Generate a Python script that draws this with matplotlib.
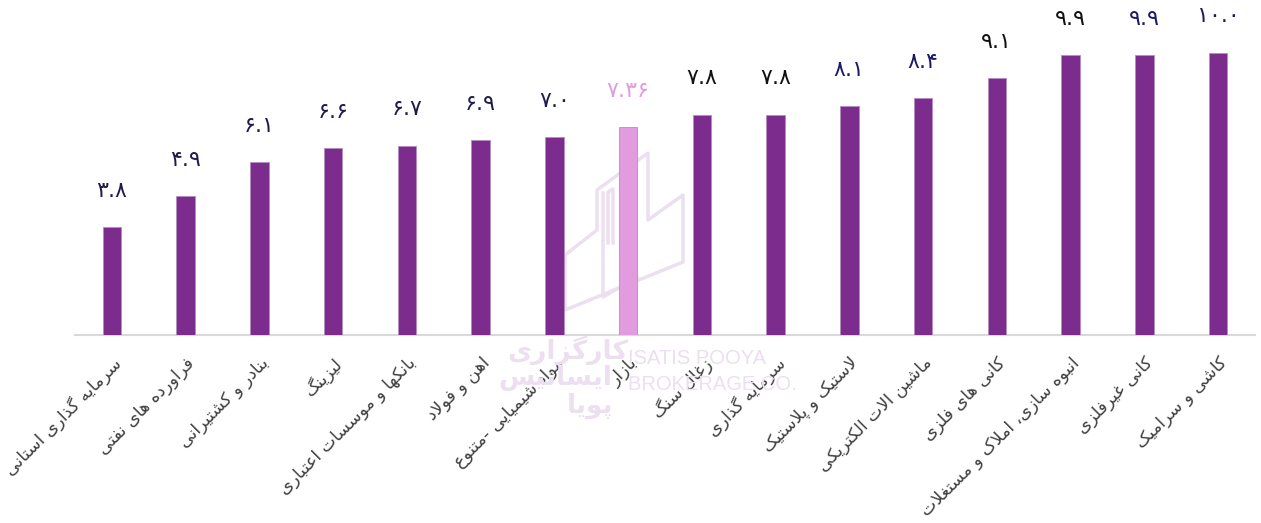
import matplotlib
matplotlib.use("Agg")
import matplotlib.pyplot as plt
from matplotlib.lines import Line2D

# داده‌ها
categories = [
    "سرمایه گذاری استانی",
    "فراورده های نفتی",
    "بنادر و کشتیرانی",
    "لیزینگ",
    "بانکها و موسسات اعتباری",
    "اهن و فولاد",
    "مواد شیمیایی -متنوع",
    "بازار",
    "زغال سنگ",
    "سرمایه گذاری",
    "لاستیک و پلاستیک",
    "ماشین الات الکتریکی",
    "کانی های فلزی",
    "انبوه سازی، املاک و مستغلات",
    "کانی غیرفلزی",
    "کاشی و سرامیک",
]
values = [3.8, 4.9, 6.1, 6.6, 6.7, 6.9, 7.0, 7.36, 7.8, 7.8, 8.1, 8.4, 9.1, 9.9, 9.9, 10.0]
value_labels = ["۳.۸", "۴.۹", "۶.۱", "۶.۶", "۶.۷", "۶.۹", "۷.۰", "۷.۳۶",
                "۷.۸", "۷.۸", "۸.۱", "۸.۴", "۹.۱", "۹.۹", "۹.۹", "۱۰.۰"]
highlight = "بازار"

# رنگ‌ها
BAR = "#7b2c8c"
BAR_HI = "#e39be0"
NAVY = "#1f1b4d"
BLUE = "#1c1a66"
BLACK = "#111111"
label_colors = [NAVY] * 7 + [BAR_HI, BLACK, BLACK, BLUE, BLUE, BLACK, BLACK, BLUE, BLUE]
WM = "#ecdfef"

# شکل‌دهی ساده حروف فارسی (matplotlib اتصال حروف را انجام نمی‌دهد)
FORMS = {
    "ا": (0xFE8D, 0xFE8E), "آ": (0xFE81, 0xFE82), "د": (0xFEA9, 0xFEAA),
    "ذ": (0xFEAB, 0xFEAC), "ر": (0xFEAD, 0xFEAE), "ز": (0xFEAF, 0xFEB0),
    "ژ": (0xFB8A, 0xFB8B), "و": (0xFEED, 0xFEEE),
    "ب": (0xFE8F, 0xFE90, 0xFE91, 0xFE92), "پ": (0xFB56, 0xFB57, 0xFB58, 0xFB59),
    "ت": (0xFE95, 0xFE96, 0xFE97, 0xFE98), "ث": (0xFE99, 0xFE9A, 0xFE9B, 0xFE9C),
    "ج": (0xFE9D, 0xFE9E, 0xFE9F, 0xFEA0), "چ": (0xFB7A, 0xFB7B, 0xFB7C, 0xFB7D),
    "ح": (0xFEA1, 0xFEA2, 0xFEA3, 0xFEA4), "خ": (0xFEA5, 0xFEA6, 0xFEA7, 0xFEA8),
    "س": (0xFEB1, 0xFEB2, 0xFEB3, 0xFEB4), "ش": (0xFEB5, 0xFEB6, 0xFEB7, 0xFEB8),
    "ص": (0xFEB9, 0xFEBA, 0xFEBB, 0xFEBC), "ض": (0xFEBD, 0xFEBE, 0xFEBF, 0xFEC0),
    "ط": (0xFEC1, 0xFEC2, 0xFEC3, 0xFEC4), "ظ": (0xFEC5, 0xFEC6, 0xFEC7, 0xFEC8),
    "ع": (0xFEC9, 0xFECA, 0xFECB, 0xFECC), "غ": (0xFECD, 0xFECE, 0xFECF, 0xFED0),
    "ف": (0xFED1, 0xFED2, 0xFED3, 0xFED4), "ق": (0xFED5, 0xFED6, 0xFED7, 0xFED8),
    "ک": (0xFB8E, 0xFB8F, 0xFB90, 0xFB91), "گ": (0xFB92, 0xFB93, 0xFB94, 0xFB95),
    "ل": (0xFEDD, 0xFEDE, 0xFEDF, 0xFEE0), "م": (0xFEE1, 0xFEE2, 0xFEE3, 0xFEE4),
    "ن": (0xFEE5, 0xFEE6, 0xFEE7, 0xFEE8), "ه": (0xFEE9, 0xFEEA, 0xFEEB, 0xFEEC),
    "ی": (0xFBFC, 0xFBFD, 0xFBFE, 0xFBFF),
}


def dual(c):
    return c in FORMS and len(FORMS[c]) == 4


def shape_fa(text):
    """حروف را به شکل اتصالی تبدیل و برای نمایش چپ به راست برعکس می‌کند."""
    out = []
    n = len(text)
    i = 0
    while i < n:
        c = text[i]
        prev = text[i - 1] if i > 0 else ""
        nxt = text[i + 1] if i + 1 < n else ""
        jp = dual(prev) and c in FORMS
        if c == "ل" and nxt == "ا":
            out.append(chr(0xFEFC if jp else 0xFEFB))
            i += 2
            continue
        if c not in FORMS:
            out.append(c)
        else:
            f = FORMS[c]
            jn = len(f) == 4 and nxt in FORMS
            if jp and jn:
                out.append(chr(f[3]))
            elif jp:
                out.append(chr(f[1]))
            elif jn:
                out.append(chr(f[2]))
            else:
                out.append(chr(f[0]))
        i += 1
    return "".join(out)[::-1]


plt.rcParams["font.family"] = ["DejaVu Sans"]

W, H = 1261, 523
fig = plt.figure(figsize=(W / 100, H / 100), dpi=100)
ax = fig.add_axes([75 / W, (H - 334.5) / H, 1180 / W, 334.5 / H])
ax.patch.set_alpha(0)

# لوگوی واترمارک (پس‌زمینه)
def px(pts):
    return [p[0] / W for p in pts], [1 - p[1] / H for p in pts]

logo_paths = [
    [(565, 255), (565, 310), (683, 262), (683, 195), (648, 220), (648, 153),
     (597, 190), (597, 230), (565, 255)],
    [(603, 193), (603, 297), (637, 277)],
    [(608, 243), (608, 192), (613, 189), (613, 243)],
]
for path in logo_paths:
    xs, ys = px(path)
    fig.add_artist(Line2D(xs, ys, color=WM, lw=2.5, zorder=0))

fig.text(568 / W, 1 - 350 / H, shape_fa("کارگزاری"), color=WM, fontsize=19,
         fontweight="bold", ha="center", va="center", zorder=0)
fig.text(555 / W, 1 - 378 / H, shape_fa("ایساتیس"), color=WM, fontsize=19,
         fontweight="bold", ha="center", va="center", zorder=0)
fig.text(590 / W, 1 - 406 / H, shape_fa("پویا"), color=WM, fontsize=19,
         fontweight="bold", ha="center", va="center", zorder=0)
wm_font = ["Liberation Sans", "DejaVu Sans"]
fig.text(628 / W, 1 - 358 / H, "ISATIS POOYA", color=WM, fontsize=14.5,
         family=wm_font, ha="left", va="center", zorder=0)
fig.text(628 / W, 1 - 384 / H, "BROKERAGE CO.", color=WM, fontsize=14.5,
         family=wm_font, ha="left", va="center", zorder=0)

x = list(range(len(categories)))
colors = [BAR_HI if c == highlight else BAR for c in categories]
bars = ax.bar(x, values, width=0.25, color=colors, edgecolor="#b58cc0",
              linewidth=0.6, zorder=3)

for xi, v, lab, col in zip(x, values, value_labels, label_colors):
    ax.annotate(lab, (xi, v), xytext=(0, 26), textcoords="offset points",
                ha="center", va="center", fontsize=16, color=col)

ax.set_xlim(-0.5, len(categories) - 0.5)
ax.set_ylim(0, 334.5 / 28.2)
ax.set_yticks([])
ax.set_xticks(x)
ax.set_xticklabels([shape_fa(c) for c in categories], rotation=45,
                   ha="right", rotation_mode="anchor", fontsize=12.5,
                   color="#404040")
ax.tick_params(axis="x", length=0, pad=14)

for s in ["top", "right", "left"]:
    ax.spines[s].set_visible(False)
ax.spines["bottom"].set_color("#d9d9d9")
ax.spines["bottom"].set_linewidth(1.5)

fig.savefig("out.png", dpi=100)
